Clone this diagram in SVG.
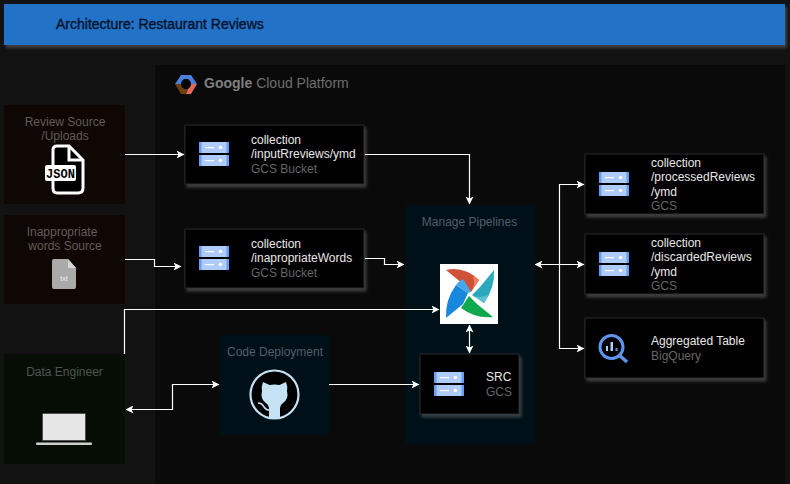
<svg xmlns="http://www.w3.org/2000/svg" width="790" height="484" viewBox="0 0 790 484">
<style>
text{font-family:"Liberation Sans",Arial,sans-serif;font-size:12px}
.w{fill:#e8e8e8}.g{fill:#5c5c5c}.h{fill:#666}.s{fill:#625c56}.b{fill:#4f5f6b}
.card{fill:#000;stroke:#2a2a2a;stroke-width:1;filter:url(#sh)}
.con{fill:none;stroke:#fff;stroke-width:1.2}
</style>
<defs>
<filter id="sh" x="-10%" y="-20%" width="125%" height="150%"><feDropShadow dx="2" dy="3" stdDeviation="1.6" flood-color="#666" flood-opacity=".55"/></filter>
<marker id="a" viewBox="0 0 8 8" refX="7.5" refY="4" markerWidth="8" markerHeight="8" orient="auto-start-reverse" markerUnits="userSpaceOnUse"><path d="M0 0L8 4L0 8L2 4Z" fill="#fff"/></marker>
<g id="bk">
<rect x="0" y="0" width="30" height="11" fill="#aecbfa"/><rect x="0" y="0" width="2.500" height="11" fill="#669df6"/><rect x="27.500" y="0" width="2.500" height="11" fill="#669df6"/>
<rect x="0" y="13" width="30" height="11" fill="#aecbfa"/><rect x="0" y="13" width="2.500" height="11" fill="#669df6"/><rect x="27.500" y="13" width="2.500" height="11" fill="#669df6"/>
<rect x="6" y="5" width="9" height="1.200" fill="#fff"/><circle cx="21.500" cy="5.500" r="1.700" fill="#fff"/>
<rect x="6" y="18" width="9" height="1.200" fill="#fff"/><circle cx="21.500" cy="18.500" r="1.700" fill="#fff"/>
</g>
</defs>
<rect width="790" height="484" fill="#121212"/>
<rect x="155" y="65" width="630" height="419" fill="#0a0a0a"/>
<g id="header"><rect x="4" y="4" width="781" height="41" fill="#2072c8" filter="url(#sh)"/><text x="56" y="29" style="font-size:14px" fill="#04152e" stroke="#04152e" stroke-width=".4">Architecture: Restaurant Reviews</text></g>
<g id="gcp"><path d="M181 75H191L197 84H191L188 79H184L181 84H175Z" fill="#4a7fdc"/><path d="M175 84H181L184 89H188L186 94H181Z" fill="#6e3d12"/><path d="M191 84H197L191 94H186L188 89Z" fill="#e0685c"/><circle cx="186" cy="84" r="5" fill="#050505"/><text x="204" y="88" style="font-size:14px" fill="#808080"><tspan font-weight="bold">Google</tspan> <tspan fill="#6e6e6e">Cloud Platform</tspan></text></g>
<g id="review-source"><rect x="4" y="105" width="121" height="99" fill="#0e0703"/><text class="s" x="65" y="126" text-anchor="middle">Review Source</text><text class="s" x="65" y="140" text-anchor="middle">/Uploads</text>
<path d="M60 146H69L83 160V188Q83 193 78 193H57Q53 193 53 188V150Q53 146 57 146Z" fill="#000" stroke="#fff" stroke-width="3"/><path d="M69 146V160H83" fill="none" stroke="#fff" stroke-width="3"/><rect x="45" y="165" width="31" height="16" rx="2" fill="#fff"/><text x="60.500" y="178" text-anchor="middle" style="font-size:12px;font-family:'Liberation Mono',monospace;font-weight:bold" fill="#000">JSON</text></g>
<g id="words-source"><rect x="4" y="215" width="121" height="89" fill="#0e0703"/><text class="s" x="62" y="236" text-anchor="middle">Inappropriate</text><text class="s" x="65" y="250" text-anchor="middle">words Source</text>
<path d="M54 259H68L76 268V287Q76 289 74 289H54Q52 289 52 287V261Q52 259 54 259Z" fill="#aaa"/><path d="M68 259L76 268H68Z" fill="#d5d5d5"/><text x="64" y="281" text-anchor="middle" style="font-size:7px" fill="#eee">txt</text></g>
<g id="data-engineer"><rect x="4" y="354" width="121" height="110" fill="#050d05"/><text x="64.500" y="376" text-anchor="middle" fill="#4f564f">Data Engineer</text><rect x="42.500" y="413.500" width="43" height="27" fill="#e6e6e6" stroke="#333" stroke-width=".6"/><rect x="36" y="442.500" width="56" height="2.500" rx="1" fill="#d0d0d0"/></g>
<g id="bucket-input"><rect class="card" x="185" y="125" width="179" height="59"/><use href="#bk" x="199" y="142"/><text class="w" x="251" y="144">collection</text><text class="w" x="251" y="158">/inputRreviews/ymd</text><text class="h" x="251" y="173">GCS Bucket</text></g>
<g id="bucket-words"><rect class="card" x="185" y="229" width="179" height="59"/><use href="#bk" x="199" y="246"/><text class="w" x="251" y="248">collection</text><text class="w" x="251" y="262">/inapropriateWords</text><text class="h" x="251" y="277">GCS Bucket</text></g>
<g id="code-deployment"><rect x="220" y="335" width="109" height="100" fill="#001019"/><text class="b" x="275" y="356" text-anchor="middle">Code Deployment</text>
<circle cx="274.500" cy="394.500" r="24" fill="#000" stroke="#c5e2f5" stroke-width="2.200"/>
<path d="M263 382L269.500 385Q274.500 384 279.500 385L286 382Q288 387 287 391Q289 399 283 403Q280 405 280 408V418.500H269V408Q269 405 266 403Q260 399 262 391Q261 387 263 382Z" fill="#c5e2f5"/><path d="M258 403Q262 403 264 407Q266 410 269 410" fill="none" stroke="#c5e2f5" stroke-width="1.600"/></g>
<g id="manage-pipelines"><rect x="405" y="205" width="130" height="239" fill="#001019"/><text class="b" x="469.500" y="226" text-anchor="middle">Manage Pipelines</text></g>
<g id="airflow"><rect x="440" y="264" width="58" height="60" fill="#fff"/>
<path d="M446 270Q464 266 479 280L471 292L463 284Z" fill="#cf5238"/>
<path d="M471 292L479 280Q476 277 473 275Q476 285 471 292Z" fill="#f47f5e"/>
<path d="M494 270Q495 288 484 303L472 295L480 287Z" fill="#2ba8bc"/>
<path d="M472 295L484 303Q487 299 488 295Q478 299 472 295Z" fill="#5fbfd0"/>
<path d="M493 317Q476 319 461 308L469 296L477 304Z" fill="#0fa84f"/>
<path d="M446 318Q445 300 456 285L468 293L463 304Z" fill="#1788dc"/>
<path d="M456 285Q459 281 463 279L471 292L468 293Z" fill="#45a8ee"/></g>
<g id="bucket-src"><rect class="card" x="420" y="354" width="99" height="60"/><use href="#bk" x="434" y="372"/><text class="w" x="486" y="381">SRC</text><text class="h" x="486" y="396">GCS</text></g>
<g id="bucket-processed"><rect class="card" x="585" y="154" width="179" height="60"/><use href="#bk" x="599" y="172"/><text class="w" x="651" y="167">collection</text><text class="w" x="651" y="181">/processedReviews</text><text class="w" x="651" y="196">/ymd</text><text class="h" x="651" y="210">GCS</text></g>
<g id="bucket-discarded"><rect class="card" x="585" y="234" width="179" height="60"/><use href="#bk" x="599" y="252"/><text class="w" x="651" y="247">collection</text><text class="w" x="651" y="261">/discardedReviews</text><text class="w" x="651" y="276">/ymd</text><text class="h" x="651" y="290">GCS</text></g>
<g id="bigquery"><rect class="card" x="585" y="318" width="179" height="60"/><circle cx="611.500" cy="347" r="11.500" fill="none" stroke="#5f95ec" stroke-width="3"/><path d="M619 355L627 362" stroke="#5f95ec" stroke-width="3.500"/><rect x="606" y="346" width="2" height="5" fill="#aecbfa"/><rect x="610.500" y="342" width="2.500" height="9" fill="#aecbfa"/><rect x="615.500" y="348" width="2" height="3" fill="#5f95ec"/><text class="w" x="651" y="345">Aggregated Table</text><text class="h" x="651" y="360">BigQuery</text></g>
<g id="connectors">
<path class="con" marker-end="url(#a)" d="M125 154.500H184"/>
<path class="con" marker-end="url(#a)" d="M365 154.500H469.500V204"/>
<path class="con" marker-end="url(#a)" d="M125 259.500H154.500V266.500H181"/>
<path class="con" marker-end="url(#a)" d="M365 258.500H384.500V264.500H404"/>
<path class="con" marker-end="url(#a)" d="M124.500 354V309.500H439"/>
<path class="con" marker-start="url(#a)" marker-end="url(#a)" d="M126 409.500H172.500V384.500H219"/>
<path class="con" marker-end="url(#a)" d="M329 384.500H419"/>
<path class="con" marker-start="url(#a)" marker-end="url(#a)" d="M469.500 325V353"/>
<path class="con" marker-start="url(#a)" marker-end="url(#a)" d="M535 264.500H584"/>
<path class="con" marker-end="url(#a)" d="M559.500 264.500V184.500H584"/>
<path class="con" marker-end="url(#a)" d="M559.500 264.500V348.500H584"/>
</g>
</svg>
